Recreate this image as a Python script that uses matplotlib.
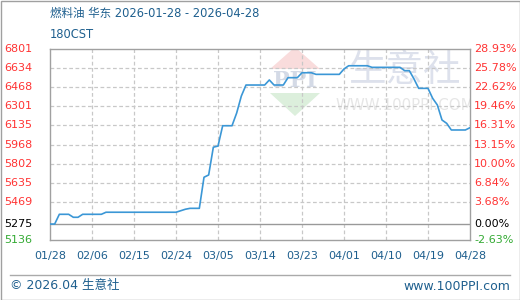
# -*- coding: utf-8 -*-
"""Fuel oil 180CST (East China) price chart, 100ppi style."""
import matplotlib
matplotlib.use("Agg")
import matplotlib.pyplot as plt
from matplotlib.patches import Polygon, Rectangle
from matplotlib.transforms import blended_transform_factory
from matplotlib.lines import Line2D

plt.rcParams["font.family"] = ["DejaVu Sans", "Noto Sans CJK SC"]
plt.rcParams["axes.unicode_minus"] = False

# ---------------- data (day offset from 2026-01-28, price) ----------------
days = [0, 1, 2, 4, 5, 6, 7, 11, 12, 27, 28, 29, 30, 32, 33, 34, 35, 36, 37, 39,
        40, 41, 42, 46, 47, 48, 50, 51, 53, 54, 56, 57, 62, 63, 64, 68, 69, 75,
        76, 77, 78, 79, 81, 82, 83, 84, 85, 86, 89, 90]
prices = [5275, 5275, 5360, 5360, 5334, 5334, 5360, 5360, 5378, 5378, 5391, 5404,
          5412, 5412, 5683, 5703, 5945, 5955, 6132, 6132, 6243, 6391, 6487, 6487,
          6531, 6487, 6487, 6551, 6551, 6594, 6594, 6580, 6580, 6627, 6655, 6655,
          6641, 6641, 6612, 6612, 6540, 6458, 6458, 6371, 6313, 6182, 6153, 6095,
          6095, 6115]

x_ticks = [0, 9, 18, 27, 36, 45, 54, 63, 72, 81, 90]
x_labels = ["01/28", "02/06", "02/15", "02/24", "03/05", "03/14", "03/23",
            "04/01", "04/10", "04/19", "04/28"]
y_ticks = [5136, 5275, 5469, 5635, 5802, 5968, 6135, 6301, 6468, 6634, 6801]
pct_labels = ["-2.63%", "0.00%", "3.68%", "6.84%", "10.00%", "13.15%", "16.31%",
              "19.46%", "22.62%", "25.78%", "28.93%"]
BASE = 5275

W, H = 520, 300
BLUE = "#1e5f8e"
RED = "#ff3333"
GREEN = "#33aa33"
LINE = "#3b97d6"
GRID = "#c8c8c8"
FRAME = "#a0a0a0"


def px(x, y):
    return x / W, 1 - y / H


fig = plt.figure(figsize=(W / 100, H / 100), dpi=100)
fig.patch.set_facecolor("white")
ax = fig.add_axes([50 / W, 1 - 240 / H, 420 / W, 191 / H])
ax.set_xlim(0, 90)
ax.set_ylim(5136, 6801)
ax.set_facecolor("white")

# watermark (behind everything in the plot area, clipped to it)
tf = fig.transFigure
ax.add_patch(Polygon([px(270, 69), px(320, 69), px(295, 47)], closed=True,
                     transform=tf, fc="#f9dcdc", ec="none", zorder=0))
ax.add_patch(Polygon([px(270, 93), px(320, 93), px(295, 116)], closed=True,
                     transform=tf, fc="#dcefdc", ec="none", zorder=0))
ax.text(*px(295, 81), "PPI", transform=tf, fontsize=16, fontweight="bold",
        color="#d4dae6", ha="center", va="center", family="DejaVu Serif",
        zorder=0, clip_on=True)
ax.text(*px(405, 70), "生意社", transform=tf, fontsize=27, color="#dde1ec",
        ha="center", va="center", family="Noto Sans CJK SC", zorder=0, clip_on=True)
ax.text(*px(405, 106), "WWW.100PPI.COM", transform=tf, fontsize=10.8,
        color="#e6e6e6", ha="center", va="center", zorder=0, clip_on=True)

# grid
for v in y_ticks[2:-1]:
    ax.axhline(v, color=GRID, lw=0.9, ls=(0, (3, 2)), zorder=1)
for d in x_ticks[1:-1]:
    ax.axvline(d, color=GRID, lw=0.9, ls=(0, (3, 2)), zorder=1)
ax.axhline(BASE, color="#999999", lw=1.0, zorder=1)

ax.plot(days, prices, color=LINE, lw=1.2, zorder=3)

for s in ax.spines.values():
    s.set_color(FRAME)
    s.set_linewidth(1.0)

ax.set_yticks([])
ax.set_xticks(x_ticks, x_labels)
ax.tick_params(axis="x", length=0, pad=8, labelsize=8, labelcolor=BLUE)

# left / right value labels
lt = blended_transform_factory(fig.transFigure, ax.transData)
for v, p in zip(y_ticks, pct_labels):
    if v > BASE:
        c = RED
    elif v == BASE:
        c = "black"
    else:
        c = GREEN
    ax.text(4 / W, v, str(v), transform=lt, fontsize=8, color=c,
            ha="left", va="center", clip_on=False)
    ax.text(474 / W, v, p, transform=lt, fontsize=8, color=c,
            ha="left", va="center", clip_on=False)

# titles
fig.text(*px(50, 13), "燃料油 华东 2026-01-28 - 2026-04-28", fontsize=8.3,
         color=BLUE, ha="left", va="center")
fig.text(*px(50, 34), "180CST", fontsize=8.3, color=BLUE, ha="left", va="center")

# footer
fig.add_artist(Line2D([10 / W, 510 / W], [1 - 275 / H] * 2, color="#aaaaaa", lw=1))
fig.text(*px(10, 286), "© 2026.04 生意社", fontsize=9, color=BLUE,
         ha="left", va="center")
fig.text(*px(510, 286), "www.100PPI.com", fontsize=9, color=BLUE,
         ha="right", va="center")

# outer frame
fig.add_artist(Rectangle((0.5 / W, 0.5 / H), 1 - 1 / W, 1 - 1 / H,
                         transform=fig.transFigure, fill=False, ec=FRAME, lw=1))

fig.savefig("out.png", dpi=100)
